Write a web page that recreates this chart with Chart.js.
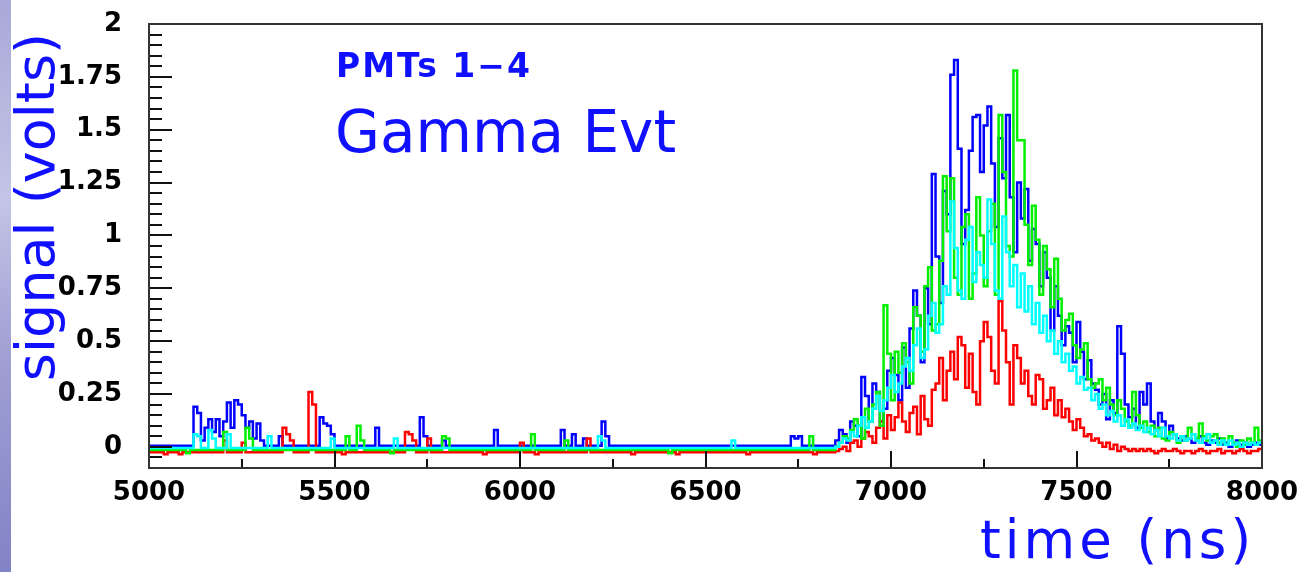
<!DOCTYPE html>
<html>
<head>
<meta charset="utf-8">
<title>PMTs 1-4 Gamma Evt</title>
<script src="https://cdn.jsdelivr.net/npm/chart.js@4/dist/chart.umd.min.js"></script>
<style>
  html, body { margin: 0; padding: 0; background: #fff; overflow: hidden; }
  #wrap { position: relative; width: 1301px; height: 572px; }
</style>
</head>
<body>
<div id="wrap"><canvas id="c" width="1301" height="572"></canvas></div>
<script>
// ---- axis ticks ----
const xTicks = [5000, 5500, 6000, 6500, 7000, 7500, 8000];
const xMinorTicks = [5250, 5750, 6250, 6750, 7250, 7750];
const yTicks = [0, 0.25, 0.5, 0.75, 1, 1.25, 1.5, 1.75, 2];

// ---- digitizer samples ----
const BIN = 10;            // ns per bin
const PULSE_START = 6850;  // first bin of the pulse window (ns)

// baseline offset of each channel (V)
const baseBlue = 0.005, baseCyan = -0.005, baseGreen = -0.015, baseRed = -0.025;

// isolated noise bins before the pulse: [time ns, volts]
const blueNoise = [
  [5120, 0.19], [5130, 0.16], [5140, 0.03], [5150, 0.09], [5160, 0.13], [5170, 0.07],
  [5180, 0.13], [5190, 0.05], [5200, 0.12], [5210, 0.21], [5220, 0.09], [5230, 0.22],
  [5240, 0.20], [5250, 0.15], [5260, 0.09], [5270, 0.12], [5280, 0.04], [5290, 0.11],
  [5300, 0.03], [5350, 0.05], [5460, 0.14], [5470, 0.11], [5480, 0.10], [5490, 0.06],
  [5610, 0.09], [5730, 0.14], [5740, 0.05], [5790, 0.03], [5930, 0.08], [6110, 0.08],
  [6140, 0.06], [6170, 0.04], [6220, 0.12], [6230, 0.05], [6730, 0.05], [6740, 0.04],
  [6750, 0.05]
];
const greenNoise = [
  [5100, -0.03], [5200, 0.07], [5260, 0.09], [5270, 0.04], [5530, 0.05], [5560, 0.10],
  [5570, 0.03], [5650, -0.03], [5790, 0.05], [5800, 0.04], [6030, 0.06], [6120, 0.03],
  [6400, -0.03], [6780, 0.05]
];
const cyanNoise = [
  [5120, 0.06], [5130, 0.05], [5160, 0.08], [5170, 0.04], [5210, 0.06], [5320, 0.05],
  [5490, 0.04], [5660, 0.04], [6210, 0.05], [6220, 0.03], [6570, 0.03]
];
const redNoise = [
  [5040, -0.035], [5080, -0.035], [5200, 0.03], [5250, 0.02], [5360, 0.09], [5370, 0.06],
  [5380, 0.03], [5430, 0.26], [5440, 0.20], [5520, -0.035], [5690, 0.07], [5700, 0.06],
  [5710, 0.03], [5750, 0.04], [5900, -0.035], [6000, 0.02], [6040, -0.035], [6180, 0.04],
  [6300, -0.035], [6420, -0.035], [6610, -0.035], [6790, -0.035]
];

// pulse window, one value per 10 ns bin, 6850 .. 7990 ns
const bluePulse = [
  0.03, 0.08, 0.06, 0.02, 0.12, 0.10, 0.05, 0.33, 0.24, 0.12,
  0.30, 0.26, 0.12, 0.18, 0.36, 0.42, 0.34, 0.22, 0.47, 0.28,
  0.56, 0.74, 0.62, 0.40, 0.75, 0.58, 1.29, 0.90, 0.68, 1.21,
  1.10, 1.76, 1.83, 1.41, 0.96, 1.12, 1.40, 1.56, 1.57, 1.30,
  1.52, 1.61, 1.34, 1.04, 1.46, 1.27, 1.57, 1.18, 0.92, 1.25,
  1.08, 1.22, 0.88, 1.03, 0.96, 0.76, 0.92, 0.80, 0.55, 0.76,
  0.62, 0.48, 0.57, 0.54, 0.40, 0.59, 0.45, 0.32, 0.41, 0.30,
  0.27, 0.20, 0.25, 0.13, 0.22, 0.16, 0.57, 0.44, 0.20, 0.14,
  0.18, 0.09, 0.26, 0.20, 0.30, 0.12, 0.08, 0.16, 0.12, 0.04,
  0.10, 0.06, 0.04, 0.03, 0.05, 0.04, 0.02, 0.03, 0.05, 0.02,
  0.01, 0.03, 0.02, 0.04, 0.01, 0.02, 0.00, 0.01, 0.03, 0.01,
  0.02, 0.00, 0.01, 0.02, 0.01
];
const greenPulse = [
  0.00, 0.02, 0.05, 0.04, 0.08, 0.13, 0.10, 0.04, 0.18, 0.12,
  0.20, 0.26, 0.10, 0.67, 0.44, 0.22, 0.45, 0.35, 0.49, 0.40,
  0.30, 0.66, 0.62, 0.45, 0.76, 0.85, 0.55, 0.58, 0.88, 1.28,
  1.02, 1.27, 0.80, 0.72, 1.04, 1.10, 0.70, 0.82, 1.18, 1.00,
  0.76, 1.02, 1.15, 0.72, 1.57, 1.30, 0.95, 0.90, 1.78, 1.45,
  1.45, 1.05, 0.86, 1.14, 0.98, 0.72, 0.95, 0.84, 0.66, 0.89,
  0.70, 0.55, 0.60, 0.63, 0.48, 0.42, 0.46, 0.49, 0.32, 0.28,
  0.30, 0.32, 0.22, 0.28, 0.20, 0.15, 0.22, 0.18, 0.12, 0.10,
  0.26, 0.15, 0.09, 0.12, 0.07, 0.10, 0.05, 0.09, 0.04, 0.03,
  0.07, 0.06, 0.02, 0.05, 0.03, 0.09, 0.06, 0.04, 0.11, 0.05,
  0.03, 0.05, 0.06, 0.02, 0.04, 0.01, 0.05, 0.02, 0.00, 0.03,
  0.01, 0.04, 0.02, 0.09, 0.03
];
const cyanPulse = [
  0.00, 0.02, 0.04, 0.03, 0.07, 0.05, 0.10, 0.14, 0.09, 0.12,
  0.18, 0.24, 0.17, 0.22, 0.28, 0.34, 0.26, 0.30, 0.38, 0.42,
  0.36, 0.48, 0.56, 0.42, 0.46, 0.62, 0.68, 0.54, 0.58, 0.76,
  0.72, 1.16, 0.94, 0.74, 0.70, 0.98, 1.04, 0.78, 0.92, 0.86,
  0.80, 1.17, 0.96, 0.74, 0.70, 1.09, 0.92, 0.76, 0.86, 0.66,
  0.82, 0.64, 0.76, 0.58, 0.68, 0.54, 0.62, 0.50, 0.55, 0.44,
  0.50, 0.40, 0.44, 0.36, 0.38, 0.30, 0.33, 0.27, 0.28, 0.22,
  0.25, 0.18, 0.20, 0.15, 0.17, 0.12, 0.15, 0.10, 0.13, 0.09,
  0.11, 0.08, 0.10, 0.07, 0.09, 0.06, 0.08, 0.05, 0.09, 0.05,
  0.04, 0.06, 0.03, 0.05, 0.03, 0.04, 0.06, 0.03, 0.02, 0.04,
  0.06, 0.02, 0.03, 0.01, 0.03, 0.01, 0.03, 0.01, 0.02, 0.00,
  0.02, 0.01, 0.02, 0.01, 0.02
];
const redPulse = [
  -0.02, -0.01, 0.00, -0.02, 0.02, 0.03, 0.00, 0.04, 0.07, 0.05,
  0.02, 0.09, 0.12, 0.04, 0.15, 0.08, 0.14, 0.21, 0.12, 0.07,
  0.16, 0.19, 0.06, 0.24, 0.13, 0.10, 0.27, 0.30, 0.42, 0.22,
  0.36, 0.45, 0.32, 0.52, 0.48, 0.28, 0.44, 0.26, 0.20, 0.50,
  0.59, 0.52, 0.36, 0.30, 0.69, 0.55, 0.40, 0.20, 0.48, 0.42,
  0.30, 0.36, 0.24, 0.20, 0.34, 0.32, 0.18, 0.22, 0.28, 0.15,
  0.22, 0.14, 0.18, 0.12, 0.08, 0.13, 0.09, 0.05, 0.06, 0.03,
  0.04, 0.02, 0.00, 0.02, -0.01, 0.01, -0.02, 0.00, -0.01, -0.02,
  -0.01, -0.02, -0.01, -0.02, -0.01, -0.02, -0.03, -0.02, -0.01, -0.02,
  -0.02, -0.01, -0.02, -0.03, -0.02, -0.02, -0.03, -0.02, -0.01, -0.02,
  -0.03, -0.02, -0.02, -0.01, -0.03, -0.02, -0.02, -0.03, -0.02, -0.01,
  -0.02, -0.03, -0.02, -0.02, -0.01
];

// Build a stepped trace: flat baseline, single-bin noise hits, then the pulse window.
function trace(base, noise, pulse) {
  const pts = [{ x: 5000, y: base }];
  noise.forEach(([t, v], i) => {
    pts.push({ x: t, y: v });
    const next = noise[i + 1];
    if (!next || next[0] !== t + BIN) pts.push({ x: t + BIN, y: base });
  });
  pulse.forEach((v, i) => pts.push({ x: PULSE_START + i * BIN, y: v }));
  pts.push({ x: 8000, y: pulse[pulse.length - 1] });
  return pts;
}

const FONT = '"DejaVu Sans", "Liberation Sans", sans-serif';
const TITLE_BLUE = '#1010ff';

// Inward tick marks, frame, captions and the slide strip on the left
const decor = {
  id: 'decor',
  beforeDraw(chart) {
    const ctx = chart.ctx;
    ctx.save();
    ctx.fillStyle = '#ffffff';
    ctx.fillRect(0, 0, chart.width, chart.height);
    ctx.restore();
  },
  afterDatasetsDraw(chart) {
    const { ctx, chartArea: a, scales: { x, y } } = chart;
    ctx.save();
    ctx.strokeStyle = '#111';
    ctx.lineWidth = 2;
    ctx.beginPath();
    // y ticks: major every 0.25, minor every 0.05
    for (let k = -2; k <= 40; k++) {
      const v = k * 0.05;
      const py = Math.round(y.getPixelForValue(v));
      const len = (k % 5 === 0) ? 23 : 13;
      ctx.moveTo(a.left, py);
      ctx.lineTo(a.left + len, py);
    }
    xTicks.forEach(v => {
      const px = Math.round(x.getPixelForValue(v));
      ctx.moveTo(px, a.bottom);
      ctx.lineTo(px, a.bottom - 17);
    });
    xMinorTicks.forEach(v => {
      const px = Math.round(x.getPixelForValue(v));
      ctx.moveTo(px, a.bottom);
      ctx.lineTo(px, a.bottom - 9);
    });
    ctx.stroke();
    ctx.strokeStyle = '#333';
    ctx.strokeRect(a.left, a.top, a.right - a.left, a.bottom - a.top);
    ctx.restore();
  },
  afterDraw(chart) {
    const ctx = chart.ctx;
    ctx.save();
    ctx.fillStyle = TITLE_BLUE;
    ctx.textAlign = 'left';
    ctx.textBaseline = 'alphabetic';

    ctx.letterSpacing = '2px';
    ctx.font = 'bold 33px ' + FONT;
    ctx.fillText('PMTs 1\u22124', 336, 77);

    ctx.letterSpacing = '0px';
    ctx.font = '58px ' + FONT;
    ctx.fillText('Gamma Evt', 335, 152);

    ctx.letterSpacing = '4px';
    ctx.font = '53px ' + FONT;
    ctx.fillText('time (ns)', 980, 558);

    ctx.letterSpacing = '0px';
    ctx.save();
    ctx.translate(54, 207);
    ctx.rotate(-Math.PI / 2);
    ctx.textAlign = 'center';
    ctx.font = '54px ' + FONT;
    ctx.fillText('signal (volts)', 0, 0);
    ctx.restore();

    const g = ctx.createLinearGradient(0, 0, 0, chart.height);
    g.addColorStop(0, '#a9a9d9');
    g.addColorStop(0.35, '#c4c4e6');
    g.addColorStop(0.6, '#a2a2d5');
    g.addColorStop(1, '#8282c6');
    ctx.fillStyle = g;
    ctx.fillRect(0, 0, 11, chart.height);
    ctx.restore();
  }
};

const tickFont = { family: FONT, size: 26, weight: 'bold' };

new Chart(document.getElementById('c'), {
  type: 'line',
  data: {
    datasets: [
      { label: 'PMT 4', data: trace(baseCyan, cyanNoise, cyanPulse), borderColor: '#00ffff' },
      { label: 'PMT 2', data: trace(baseGreen, greenNoise, greenPulse), borderColor: '#00f000' },
      { label: 'PMT 1', data: trace(baseRed, redNoise, redPulse), borderColor: '#ff0000' },
      { label: 'PMT 3', data: trace(baseBlue, blueNoise, bluePulse), borderColor: '#0000ff' }
    ].map(d => Object.assign(d, {
      stepped: true, borderWidth: 2.5, pointRadius: 0, tension: 0, fill: false
    }))
  },
  options: {
    responsive: false,
    animation: false,
    devicePixelRatio: 1,
    layout: { padding: { top: 24, right: 39, left: 0, bottom: 0 } },
    plugins: { legend: { display: false }, tooltip: { enabled: false } },
    scales: {
      x: {
        type: 'linear', min: 5000, max: 8000,
        grid: { display: false, drawTicks: false },
        border: { display: false },
        afterBuildTicks: s => { s.ticks = xTicks.map(v => ({ value: v })); },
        afterFit: s => { s.height = 104; s.paddingLeft = 0; s.paddingRight = 0; },
        ticks: { padding: 10, autoSkip: false, maxRotation: 0, font: tickFont, color: '#000',
                 callback: v => String(v) }
      },
      y: {
        type: 'linear', min: -0.1, max: 2,
        grid: { display: false, drawTicks: false },
        border: { display: false },
        afterBuildTicks: s => { s.ticks = yTicks.map(v => ({ value: v })); },
        afterFit: s => { s.width = 149; s.paddingTop = 0; s.paddingBottom = 0; },
        ticks: { padding: 27, font: tickFont, color: '#000', callback: v => String(v) }
      }
    }
  },
  plugins: [decor]
});
</script>
</body>
</html>
